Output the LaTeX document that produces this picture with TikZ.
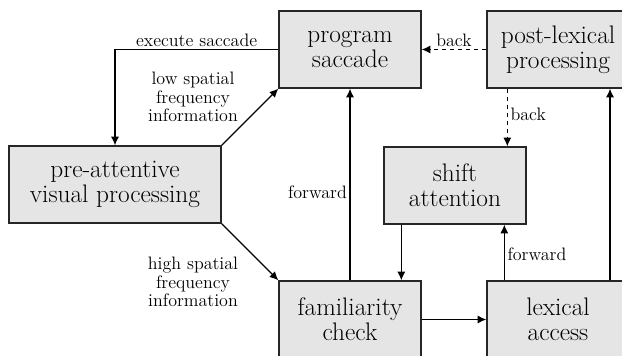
\documentclass[tikz,border=0pt]{standalone}
\usetikzlibrary{arrows.meta}
\tikzset{
  box/.style={draw=black!85, line width=1pt, fill=black!10, align=center,
    minimum width=106.5pt, minimum height=57.75pt, inner sep=1pt,
    font=\fontsize{19}{18.5}\selectfont},
  lbl/.style={align=center, inner sep=2pt, font=\fontsize{13.5}{14}\selectfont},
  conn/.style={line width=0.8pt, -{Latex[length=6.5pt,width=6pt]}}
}
\begin{document}
\begin{tikzpicture}[x=0.75pt,y=0.75pt,yscale=-1,xscale=1]
\useasboundingbox (0,0) rectangle (622,356);
\clip (0,0) rectangle (622,356);

% Boxes
\node[box] (prog) at (350,49.5) {program\\saccade};
\node[box] (post) at (558,49.5) {post-lexical\\processing};
\node[box, minimum width=159pt] (preatt) at (115,184.5) {pre-attentive\\visual processing};
\node[box] (shift) at (455,185.5) {shift\\attention};
\node[box] (famil) at (350,319.5) {familiarity\\check};
\node[box] (lexacc) at (558,319.5) {lexical\\access};

% Connectors
\draw[conn] (prog.west) -| node[lbl, pos=0.25, above] {execute saccade} (preatt.north);
\draw[conn] (preatt.north east) -- (prog.south west);
\draw[conn] (preatt.south east) -- (famil.north west);
\draw[conn] (famil.north) -- node[lbl, pos=0.46, left] {forward} (prog.south);
\draw[conn, dashed] (post.west) -- node[lbl, above] {back} (prog.east);
\draw[conn, dashed] ([xshift=15.75pt]post.south west) coordinate (pb)
  -- node[lbl, pos=0.45, right] {back} (pb |- shift.north);
\draw[conn] ([xshift=13.5pt]shift.south west) coordinate (sb) -- (sb |- famil.north);
\draw[conn] (famil.east) -- (lexacc.west);
\draw[conn] ([xshift=13.5pt]lexacc.north west) coordinate (lf)
  -- node[lbl, pos=0.46, right] {forward} (lf |- shift.south);
\draw[conn] ([xshift=39pt]lexacc.north) coordinate (lp) -- (lp |- post.south);

% Labels
\node[lbl] (lowsf) at (193,97) {low spatial\\frequency\\information};
\node[lbl] (highsf) at (193,282) {high spatial\\frequency\\information};
\end{tikzpicture}
\end{document}
